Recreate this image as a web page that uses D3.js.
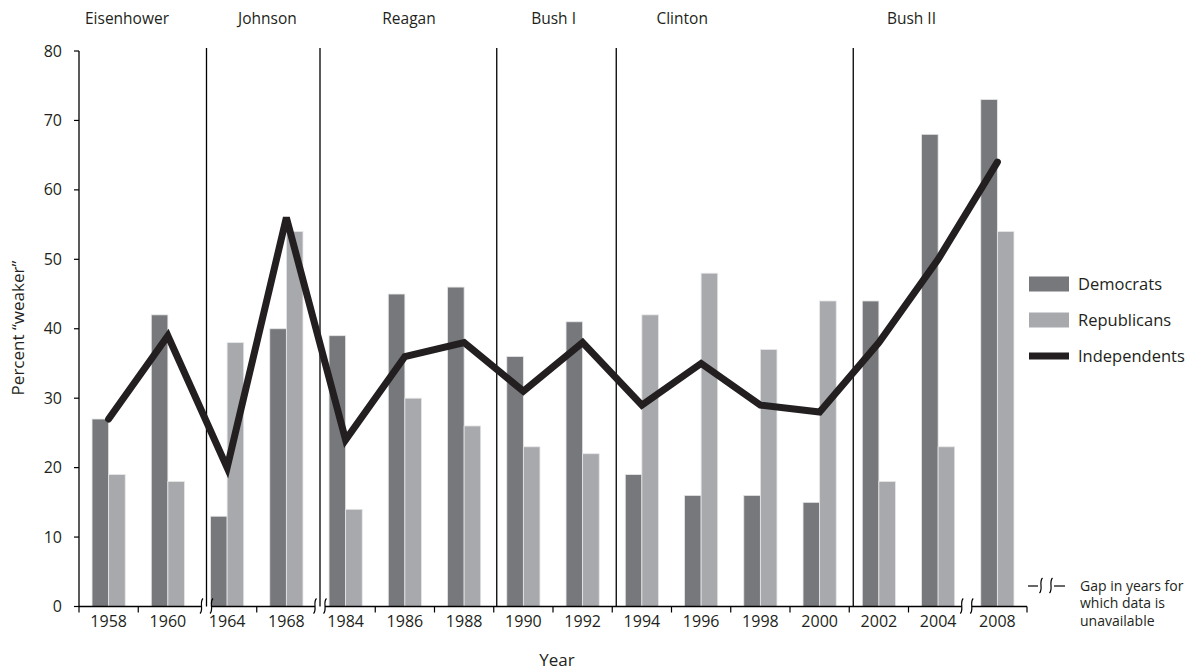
<!DOCTYPE html>
<html>
<head>
<meta charset="utf-8">
<script src="https://cdn.jsdelivr.net/npm/d3@7"></script>
<style>
  html, body { margin: 0; padding: 0; background: #fff; }
  svg { display: block; font-family: "Open Sans", "Noto Sans", sans-serif; fill: #231f20; }
</style>
</head>
<body>
<svg id="chart" width="1198" height="670"></svg>
<script>
// ---- data ----
const years = ["1958","1960","1964","1968","1984","1986","1988","1990","1992","1994","1996","1998","2000","2002","2004","2008"];
const democrats    = [27, 42, 13, 40, 39, 45, 46, 36, 41, 19, 16, 16, 15, 44, 68, 73];
const republicans  = [19, 18, 38, 54, 14, 30, 26, 23, 22, 42, 48, 37, 44, 18, 23, 54];
const independents = [27, 39, 20, 56, 24, 36, 38, 31, 38, 29, 35, 29, 28, 38, 50, 64];
const yTicks = [0, 10, 20, 30, 40, 50, 60, 70, 80];
const presidents = ["Eisenhower", "Johnson", "Reagan", "Bush I", "Clinton", "Bush II"];
const presidentFirstYear = ["1958", "1964", "1984", "1990", "1994", "2002"];
const gapAfter = ["1960", "1968", "2004"]; // years after which there is a gap in the data
const seriesNames = ["Democrats", "Republicans", "Independents"];

// ---- layout / style ----
const plotLeft = 79, plotRight = 1027, plotTop = 51, plotBottom = 606.5;
const colDem = "#77787b", colRep = "#a7a9ac", colInd = "#231f20";
const svg = d3.select("#chart");

const x = d3.scaleBand().domain(years).range([plotLeft, plotRight]).paddingInner(0).paddingOuter(0);
const bw = x.bandwidth();
const barW = bw * 0.28;
const y = d3.scaleLinear().domain([0, 80]).range([plotBottom, plotTop]);

// president divider offsets (pixels right of the band boundary) and label offsets (in band widths)
const dividerShift = [0, 9, 4, 3, 4, 4];
const labelPos = [0.81, 1.18, 1.57, 1.01, 1.18, 1.05];
const gapShift = [9, 4, -1];

// ---- bars ----
const rows = years.map((yr, i) => ({yr, d: democrats[i], r: republicans[i], ind: independents[i]}));
const g = svg.append("g");
g.selectAll("rect.dem").data(rows).join("rect")
  .attr("class", "dem")
  .attr("x", d => x(d.yr) + bw / 2 - barW)
  .attr("y", d => y(d.d))
  .attr("width", barW)
  .attr("height", d => y(0) - y(d.d))
  .attr("fill", colDem).attr("stroke", "#e6e7e8").attr("stroke-width", 0.8);
g.selectAll("rect.rep").data(rows).join("rect")
  .attr("class", "rep")
  .attr("x", d => x(d.yr) + bw / 2)
  .attr("y", d => y(d.r))
  .attr("width", barW)
  .attr("height", d => y(0) - y(d.r))
  .attr("fill", colRep).attr("stroke", "#e6e7e8").attr("stroke-width", 0.8);

// ---- president dividers and labels ----
presidents.forEach((p, i) => {
  const bx = x(presidentFirstYear[i]);
  if (i > 0) {
    svg.append("line")
      .attr("x1", bx + dividerShift[i]).attr("x2", bx + dividerShift[i])
      .attr("y1", 48).attr("y2", plotBottom)
      .attr("stroke", "#000").attr("stroke-width", 1.3);
  }
  svg.append("text")
    .attr("x", bx + labelPos[i] * bw)
    .attr("y", 24)
    .attr("text-anchor", "middle")
    .attr("font-size", 15.5)
    .text(p);
});

// ---- independents line ----
svg.append("path")
  .datum(rows)
  .attr("d", d3.line().x(d => x(d.yr) + bw / 2).y(d => y(d.ind)))
  .attr("fill", "none").attr("stroke", colInd).attr("stroke-width", 7)
  .attr("stroke-linejoin", "miter").attr("stroke-miterlimit", 4).attr("stroke-linecap", "round");

// ---- y axis ----
const ya = svg.append("g");
ya.append("line").attr("x1", plotLeft).attr("x2", plotLeft).attr("y1", y(80)).attr("y2", y(0))
  .attr("stroke", "#000").attr("stroke-width", 1.3);
ya.selectAll("line.t").data(yTicks).join("line").attr("class", "t")
  .attr("x1", plotLeft - 5).attr("x2", plotLeft).attr("y1", d => y(d)).attr("y2", d => y(d))
  .attr("stroke", "#000").attr("stroke-width", 1.2);
ya.selectAll("text").data(yTicks).join("text")
  .attr("x", plotLeft - 17).attr("y", d => y(d)).attr("dy", "0.35em")
  .attr("text-anchor", "end").attr("font-size", 16).text(d => d);

// ---- x axis with gaps ----
const xa = svg.append("g");
const gapXs = gapAfter.map((yr, i) => x(yr) + bw + gapShift[i]);
const segs = [];
let segStart = plotLeft;
gapXs.forEach(gx => { segs.push([segStart, gx - 5]); segStart = gx + 5; });
segs.push([segStart, plotRight]);
segs.forEach(s => {
  xa.append("line").attr("x1", s[0]).attr("x2", s[1]).attr("y1", plotBottom).attr("y2", plotBottom)
    .attr("stroke", "#000").attr("stroke-width", 1.3);
});
// break marks
function breakMark(sel, cx, cy) {
  sel.append("path")
    .attr("d", `M${cx + 1.5},${cy - 8} C${cx - 2.5},${cy - 4} ${cx + 2.5},${cy + 3} ${cx - 1.5},${cy + 7}`)
    .attr("fill", "none").attr("stroke", "#000").attr("stroke-width", 1.2);
}
gapXs.forEach(gx => { breakMark(xa, gx - 5, plotBottom); breakMark(xa, gx + 5, plotBottom); });
// tick marks at band boundaries (skip boundaries that are gaps)
const boundaries = [plotLeft].concat(years.map(yr => x(yr) + bw));
boundaries.forEach((bx, i) => {
  const yr = i > 0 ? years[i - 1] : null;
  if (yr && gapAfter.includes(yr)) return;
  xa.append("line").attr("x1", bx).attr("x2", bx).attr("y1", plotBottom).attr("y2", plotBottom + 6)
    .attr("stroke", "#000").attr("stroke-width", 1.2);
});
xa.selectAll("text").data(years).join("text")
  .attr("x", d => x(d) + bw / 2).attr("y", 627)
  .attr("text-anchor", "middle").attr("font-size", 16).text(d => d);

// ---- axis titles ----
svg.append("text").attr("x", 557).attr("y", 666).attr("text-anchor", "middle")
  .attr("font-size", 17).text("Year");
svg.append("text").attr("transform", "translate(24,328) rotate(-90)")
  .attr("text-anchor", "middle").attr("font-size", 17).text("Percent \u201Cweaker\u201D");

// ---- legend ----
const lg = svg.append("g");
const legendY = [284, 320, 356];
lg.append("rect").attr("x", 1029).attr("y", legendY[0] - 7.5).attr("width", 40).attr("height", 15).attr("fill", colDem);
lg.append("rect").attr("x", 1029).attr("y", legendY[1] - 7.5).attr("width", 40).attr("height", 15).attr("fill", colRep);
lg.append("rect").attr("x", 1029).attr("y", legendY[2] - 3.5).attr("width", 40).attr("height", 7).attr("fill", colInd);
seriesNames.forEach((n, i) => {
  lg.append("text").attr("x", 1078).attr("y", legendY[i]).attr("dy", "0.35em")
    .attr("font-size", 16.5).text(n);
});

// ---- gap note ----
const ng = svg.append("g");
ng.append("line").attr("x1", 1028).attr("x2", 1038).attr("y1", 586).attr("y2", 586).attr("stroke", "#000").attr("stroke-width", 1.2);
ng.append("line").attr("x1", 1054).attr("x2", 1065).attr("y1", 586).attr("y2", 586).attr("stroke", "#000").attr("stroke-width", 1.2);
breakMark(ng, 1041, 586);
breakMark(ng, 1051, 586);
["Gap in years for", "which data is", "unavailable"].forEach((t, i) => {
  ng.append("text").attr("x", 1080).attr("y", 586 + i * 17.5).attr("dy", "0.35em")
    .attr("font-size", 14).text(t);
});
</script>
</body>
</html>
